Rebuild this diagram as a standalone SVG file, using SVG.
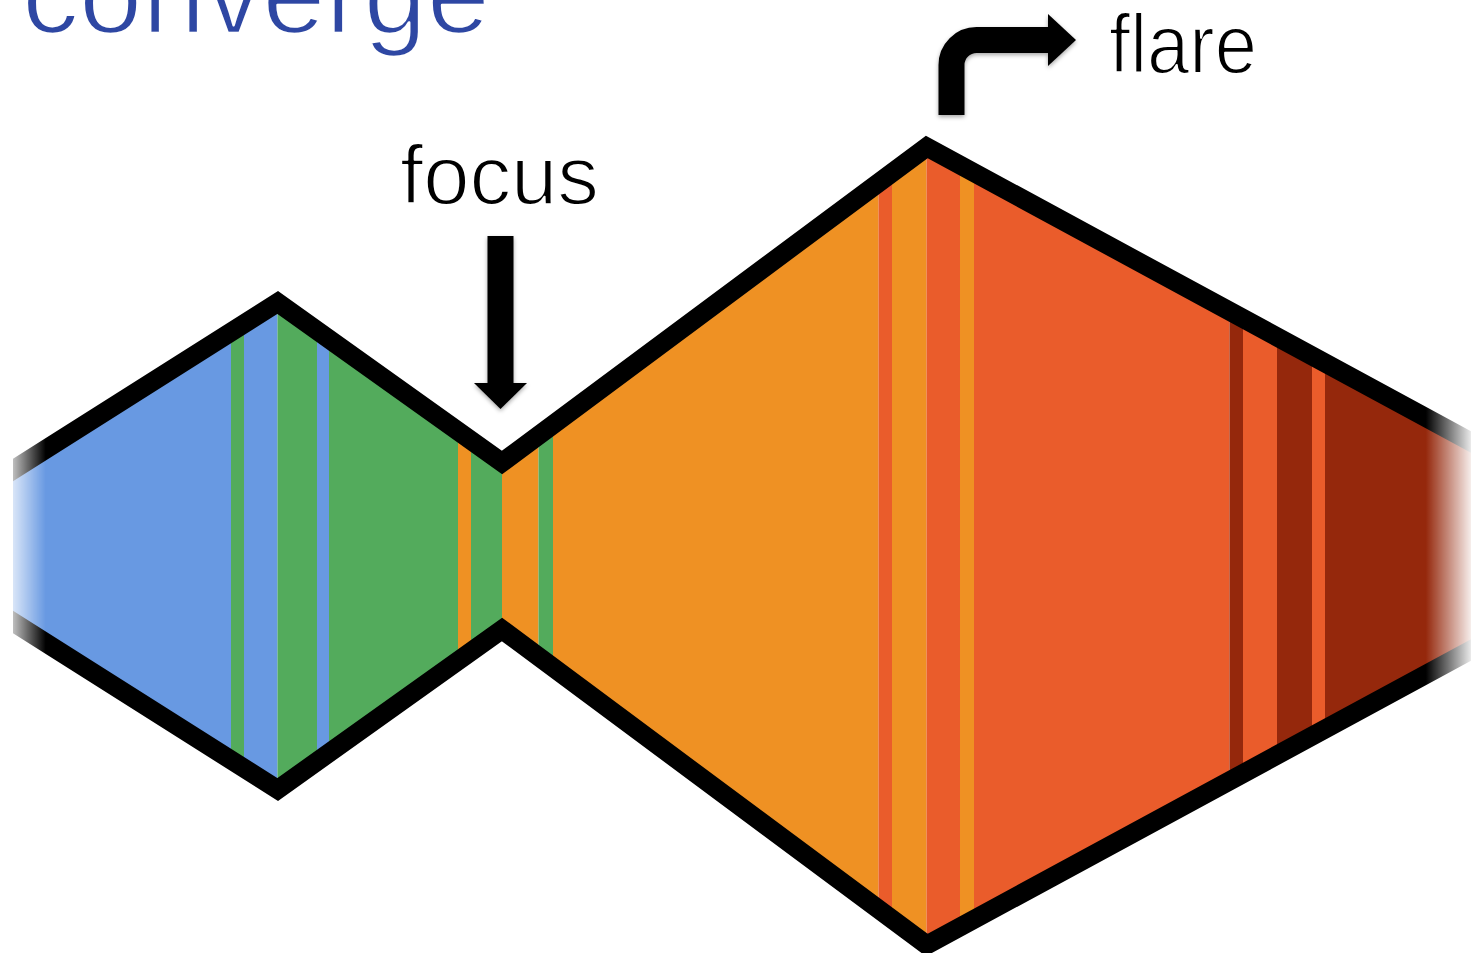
<svg xmlns="http://www.w3.org/2000/svg" width="1473" height="953" viewBox="0 0 1473 953">
  <style>
    .lbl { font-family: "Liberation Sans", Arial, Helvetica, sans-serif; stroke: #ffffff; stroke-linejoin: round; }
    .blue { fill: #6899e2; }
    .green { fill: #53ab5c; }
    .orange { fill: #ef9123; }
    .red { fill: #ea5c2b; }
    .dark { fill: #95280c; }
    .outline { fill: none; stroke: #000000; stroke-width: 19; stroke-linejoin: miter; stroke-miterlimit: 10; }
  </style>
  <defs>
    <clipPath id="bodyClip">
      <polygon points="13,470 277.7,302.5 502,462.5 926.7,147 1471,442 1471,650 926.7,945 502,629.5 277.7,789.5 13,622"/>
    </clipPath>
    <clipPath id="endClip">
      <rect x="13" y="0" width="1458" height="953"/>
    </clipPath>
    <linearGradient id="fadeGrad" gradientUnits="userSpaceOnUse" x1="0" y1="0" x2="1473" y2="0">
      <stop offset="0.0088" stop-color="#fff" stop-opacity="0.25"/>
      <stop offset="0.031" stop-color="#fff" stop-opacity="1"/>
      <stop offset="0.968" stop-color="#fff" stop-opacity="1"/>
      <stop offset="0.9987" stop-color="#fff" stop-opacity="0.08"/>
    </linearGradient>
    <mask id="fadeMask" maskUnits="userSpaceOnUse" x="0" y="0" width="1473" height="953">
      <rect x="0" y="0" width="1473" height="953" fill="url(#fadeGrad)"/>
    </mask>
    <filter id="shadow" x="-20%" y="-20%" width="140%" height="140%">
      <feDropShadow dx="0" dy="2" stdDeviation="2" flood-color="#000" flood-opacity="0.35"/>
    </filter>
  </defs>

  <rect x="0" y="0" width="1473" height="953" fill="#ffffff"/>

  <g id="converge-label">
    <text class="lbl" x="22" y="33" font-size="114" fill="#2e47a3" stroke-width="2.5" textLength="468" lengthAdjust="spacingAndGlyphs">converge</text>
  </g>

  <g id="shape" mask="url(#fadeMask)">
    <g clip-path="url(#bodyClip)">
      <rect class="blue" x="13" y="0" width="218" height="953"/>
      <rect class="green" x="231" y="0" width="13" height="953"/>
      <rect class="blue" x="244" y="0" width="33.5" height="953"/>
      <rect class="green" x="277.5" y="0" width="39.5" height="953"/>
      <rect class="blue" x="317" y="0" width="12" height="953"/>
      <rect class="green" x="329" y="0" width="129" height="953"/>
      <rect class="orange" x="458" y="0" width="13" height="953"/>
      <rect class="green" x="471" y="0" width="31" height="953"/>
      <rect class="orange" x="502" y="0" width="36.5" height="953"/>
      <rect class="green" x="538.5" y="0" width="14.5" height="953"/>
      <rect class="orange" x="553" y="0" width="325.5" height="953"/>
      <rect class="red" x="878.5" y="0" width="13.5" height="953"/>
      <rect class="orange" x="892" y="0" width="34.5" height="953"/>
      <rect class="red" x="926.5" y="0" width="33.5" height="953"/>
      <rect class="orange" x="960" y="0" width="14" height="953"/>
      <rect class="red" x="974" y="0" width="255.5" height="953"/>
      <rect class="dark" x="1229.5" y="0" width="13.5" height="953"/>
      <rect class="red" x="1243" y="0" width="34" height="953"/>
      <rect class="dark" x="1277" y="0" width="35" height="953"/>
      <rect class="red" x="1312" y="0" width="13" height="953"/>
      <rect class="dark" x="1325" y="0" width="148" height="953"/>
    </g>
    <g clip-path="url(#endClip)">
      <polyline class="outline" points="0,478.2 277.7,302.5 502,462.5 926.7,147 1485,449.6"/>
      <polyline class="outline" points="0,613.8 277.7,789.5 502,629.5 926.7,945 1485,642.4"/>
    </g>
  </g>

  <g id="connectors" filter="url(#shadow)">
    <g id="focus-arrow">
      <rect x="487.5" y="236" width="26" height="148" fill="#000"/>
      <polygon points="474,383 527,383 500.5,409" fill="#000"/>
    </g>
    <g id="flare-arrow">
      <path d="M951.5,115 L951.5,65 A25,25 0 0 1 976.5,40 L1050,40" fill="none" stroke="#000" stroke-width="26"/>
      <polygon points="1048,14 1076,40 1048,66" fill="#000"/>
    </g>
  </g>

  <g id="focus-label">
    <text class="lbl" x="400" y="204" font-size="84" fill="#000" stroke-width="2" textLength="199" lengthAdjust="spacingAndGlyphs">focus</text>
  </g>

  <g id="flare-label">
    <text class="lbl" x="1109" y="73" font-size="84" fill="#000" stroke-width="2" textLength="148" lengthAdjust="spacingAndGlyphs">flare</text>
  </g>
</svg>
